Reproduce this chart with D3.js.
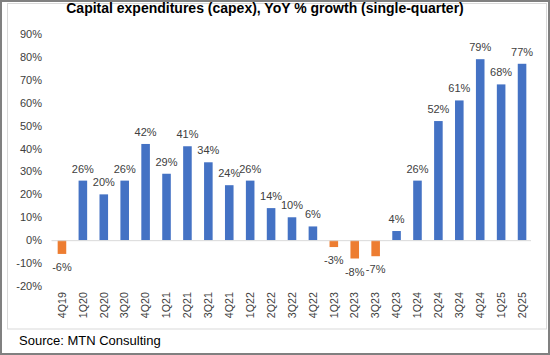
<!DOCTYPE html>
<html>
<head>
<meta charset="utf-8">
<script src="https://cdn.jsdelivr.net/npm/d3@7"></script>
<style>
html,body{margin:0;padding:0;background:#fff;}
svg{display:block;font-family:"Liberation Sans",Arial,sans-serif;}
</style>
</head>
<body>
<svg id="chart" width="550" height="355"></svg>
<script>
const categories = ["4Q19","1Q20","2Q20","3Q20","4Q20","1Q21","2Q21","3Q21","4Q21","1Q22","2Q22","3Q22","4Q22","1Q23","2Q23","3Q23","4Q23","1Q24","2Q24","3Q24","4Q24","1Q25","2Q25"];
const growth = [-6,26,20,26,42,29,41,34,24,26,14,10,6,-3,-8,-7,4,26,52,61,79,68,77];
const yTicks = [-20,-10,0,10,20,30,40,50,60,70,80,90];
const title = "Capital expenditures (capex), YoY % growth (single-quarter)";
const source = "Source: MTN Consulting";

const svg = d3.select("#chart");
const W = 550, H = 355;

// outer border & inner chart-area box
svg.append("rect").attr("x",7.5).attr("y",3.5).attr("width",539).attr("height",325.5)
  .attr("fill","none").attr("stroke","#d9d9d9").attr("stroke-width",1);
svg.append("rect").attr("x",1).attr("y",1).attr("width",W-2).attr("height",H-2)
  .attr("fill","none").attr("stroke","#808080").attr("stroke-width",2);

const x = d3.scaleBand().domain(categories).range([51.5,532.5]).paddingInner(0.59).paddingOuter(0.295);
const y = d3.scaleLinear().domain([-20,90]).range([286,34]);

// title
svg.append("text").attr("x",265).attr("y",13).attr("text-anchor","middle")
  .attr("font-weight","bold").attr("font-size","14px").attr("fill","#000").text(title);

// y axis labels
const yAxis = d3.axisLeft(y).tickValues(yTicks).tickFormat(d=>d+"%").tickSize(0).tickPadding(0);
const ga = svg.append("g").attr("transform","translate(42,0)").call(yAxis);
ga.select(".domain").remove();
ga.selectAll("text").attr("font-size","11px").attr("fill","#404040").attr("font-family","Liberation Sans, Arial, sans-serif");

// bars
svg.append("g").selectAll("rect").data(categories).join("rect")
  .attr("x",d=>x(d))
  .attr("width",x.bandwidth())
  .attr("y",(d,i)=>growth[i]>=0 ? y(growth[i]) : y(0))
  .attr("height",(d,i)=>Math.abs(y(growth[i])-y(0)))
  .attr("fill",(d,i)=>growth[i]>=0 ? "#4472C4" : "#ED7D31");

// zero line
svg.append("line").attr("x1",51.5).attr("x2",531).attr("y1",y(0)+0.5).attr("y2",y(0)+0.5)
  .attr("stroke","#d9d9d9").attr("stroke-width",1);

// data labels
svg.append("g").selectAll("text").data(categories).join("text")
  .attr("x",d=>x(d)+x.bandwidth()/2)
  .attr("y",(d,i)=>growth[i]>=0 ? y(growth[i])-8 : y(growth[i])+17)
  .attr("text-anchor","middle").attr("font-size","11px").attr("fill","#404040")
  .text((d,i)=>growth[i]+"%");

// x axis labels (rotated)
const xAxis = d3.axisBottom(x).tickSize(0).tickPadding(0);
const gx = svg.append("g").attr("transform","translate(0,292)").call(xAxis);
gx.select(".domain").remove();
gx.selectAll("text").attr("font-size","10.7px").attr("fill","#404040")
  .attr("font-family","Liberation Sans, Arial, sans-serif")
  .attr("text-anchor","end").attr("transform","rotate(-90)")
  .attr("x",0).attr("y",0).attr("dy","0.35em");

// source
svg.append("text").attr("x",19).attr("y",345).attr("font-size","13px").attr("fill","#000").text(source);
</script>
</body>
</html>
